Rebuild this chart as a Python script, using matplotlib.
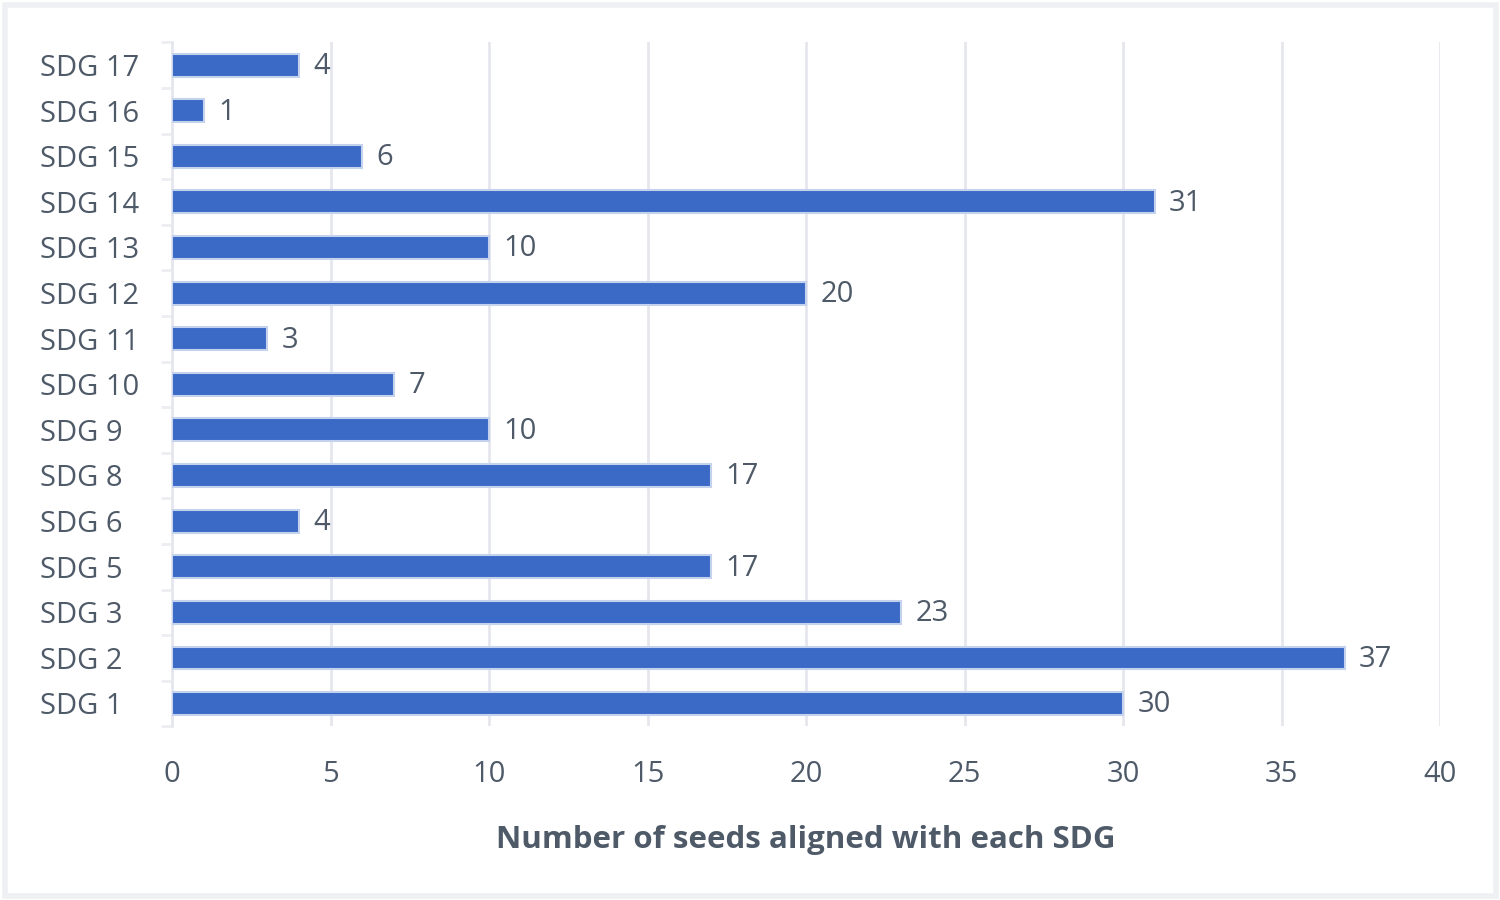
import matplotlib.pyplot as plt
from matplotlib.patches import Rectangle

plt.rcParams['font.family'] = ['Open Sans', 'DejaVu Sans']

sdgs = ['SDG 1', 'SDG 2', 'SDG 3', 'SDG 5', 'SDG 6', 'SDG 8', 'SDG 9', 'SDG 10',
        'SDG 11', 'SDG 12', 'SDG 13', 'SDG 14', 'SDG 15', 'SDG 16', 'SDG 17']
seeds = [30, 37, 23, 17, 4, 17, 10, 7, 3, 20, 10, 31, 6, 1, 4]

text_col = '#4f5a69'
bar_col = '#3a69c6'

fig = plt.figure(figsize=(15, 9), dpi=100)
fig.patch.set_facecolor('white')
# light frame round the chart
fig.patches.append(Rectangle((0.003, 0.004), 0.994, 0.99, transform=fig.transFigure,
                             fill=False, edgecolor='#eef0f3', linewidth=4))

ax = fig.add_axes([0.1147, 0.193, 0.8453, 0.76])
y = range(len(sdgs))
ax.barh(y, seeds, height=0.5, color=bar_col, edgecolor='#c5d2ee', linewidth=1.5, zorder=3)

for i, v in enumerate(seeds):
    ax.text(v + 0.45, i - 0.03, str(v), va='center', ha='left', fontsize=21, color=text_col)

ax.set_xlim(0, 40)
ax.set_ylim(-0.5, len(sdgs) - 0.5)
ax.set_xticks(range(0, 41, 5))
ax.set_yticks(list(y))
ax.set_yticklabels(sdgs, ha='left')
ax.tick_params(axis='x', length=0, labelsize=21, labelcolor=text_col, pad=24)
ax.tick_params(axis='y', length=0, labelsize=21, labelcolor=text_col, pad=95)
ax.set_yticks([i - 0.5 for i in range(len(sdgs) + 1)], minor=True)
ax.tick_params(axis='y', which='minor', length=8, color='#eceef2', width=2)

ax.grid(axis='x', color='#e6e7ee', linewidth=2, zorder=0)
for s in ['top', 'right', 'bottom']:
    ax.spines[s].set_visible(False)
ax.spines['left'].set_color('#e6e7ee')
ax.spines['left'].set_linewidth(2)

ax.set_xlabel('Number of seeds aligned with each SDG', fontsize=22.5, fontweight='bold',
              color=text_col, labelpad=26)

fig.savefig('out.png', dpi=100)
